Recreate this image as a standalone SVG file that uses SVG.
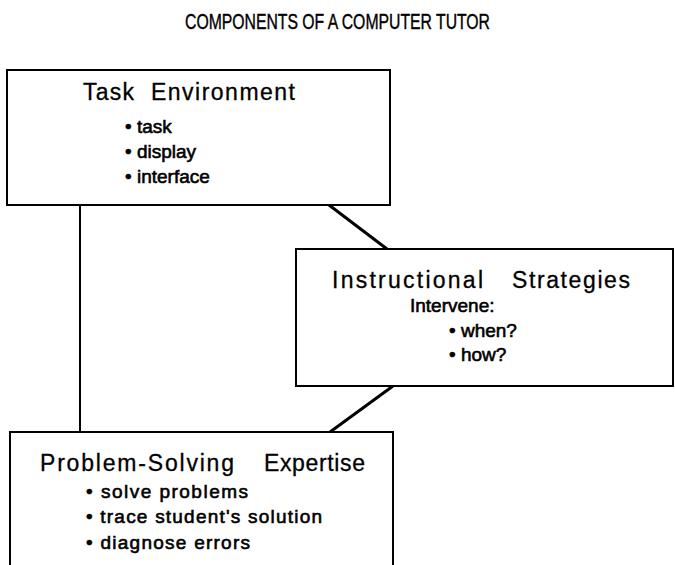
<svg xmlns="http://www.w3.org/2000/svg" width="675" height="565" viewBox="0 0 675 565" xml:space="preserve">
<style>
.box{fill:#fff;stroke:#000;stroke-width:2}
.con{fill:none;stroke:#000;stroke-width:2}
.diag{fill:none;stroke:#000;stroke-width:3}
text{font-family:"Liberation Sans",Arial,sans-serif;fill:#000}
.head{font-size:23px;stroke:#000;stroke-width:0.3}
.item{font-size:19px;stroke:#000;stroke-width:0.6}
.title{font-size:22px;stroke:#000;stroke-width:0.4}
</style>
<rect width="675" height="565" fill="#fff"/>
<text class="title" x="185" y="29" textLength="305" lengthAdjust="spacingAndGlyphs">COMPONENTS OF A COMPUTER TUTOR</text>
<g id="connectors">
<line class="con" x1="80" y1="205" x2="80" y2="432"/>
<line class="diag" x1="329" y1="205" x2="387" y2="249"/>
<line class="diag" x1="393" y1="386" x2="330" y2="432"/>
</g>
<g id="task-environment">
<rect class="box" x="7" y="70" width="383" height="135"/>
<text class="head" y="100"><tspan x="83" textLength="51" lengthAdjust="spacing">Task</tspan> <tspan x="151" textLength="144" lengthAdjust="spacing">Environment</tspan></text>
<text class="item" x="125" y="133">• task</text>
<text class="item" x="125" y="158">• display</text>
<text class="item" x="125" y="183">•  interface</text>
</g>
<g id="instructional-strategies">
<rect class="box" x="296" y="249" width="377" height="137"/>
<text class="head" y="288"><tspan x="332" textLength="151" lengthAdjust="spacing">Instructional</tspan> <tspan x="512" textLength="118" lengthAdjust="spacing">Strategies</tspan></text>
<text class="item" x="410" y="312">Intervene:</text>
<text class="item" x="449" y="337">• when?</text>
<text class="item" x="449" y="361">• how?</text>
</g>
<g id="problem-solving-expertise">
<rect class="box" x="10" y="432" width="383" height="140"/>
<text class="head" y="471"><tspan x="40" textLength="194" lengthAdjust="spacing">Problem-Solving</tspan> <tspan x="264" textLength="101" lengthAdjust="spacing">Expertise</tspan></text>
<text class="item" x="86" y="498" textLength="162" lengthAdjust="spacing">•  solve  problems</text>
<text class="item" x="86" y="523" textLength="236" lengthAdjust="spacing">•  trace  student's  solution</text>
<text class="item" x="86" y="549" textLength="164" lengthAdjust="spacing">•  diagnose  errors</text>
</g>
</svg>
